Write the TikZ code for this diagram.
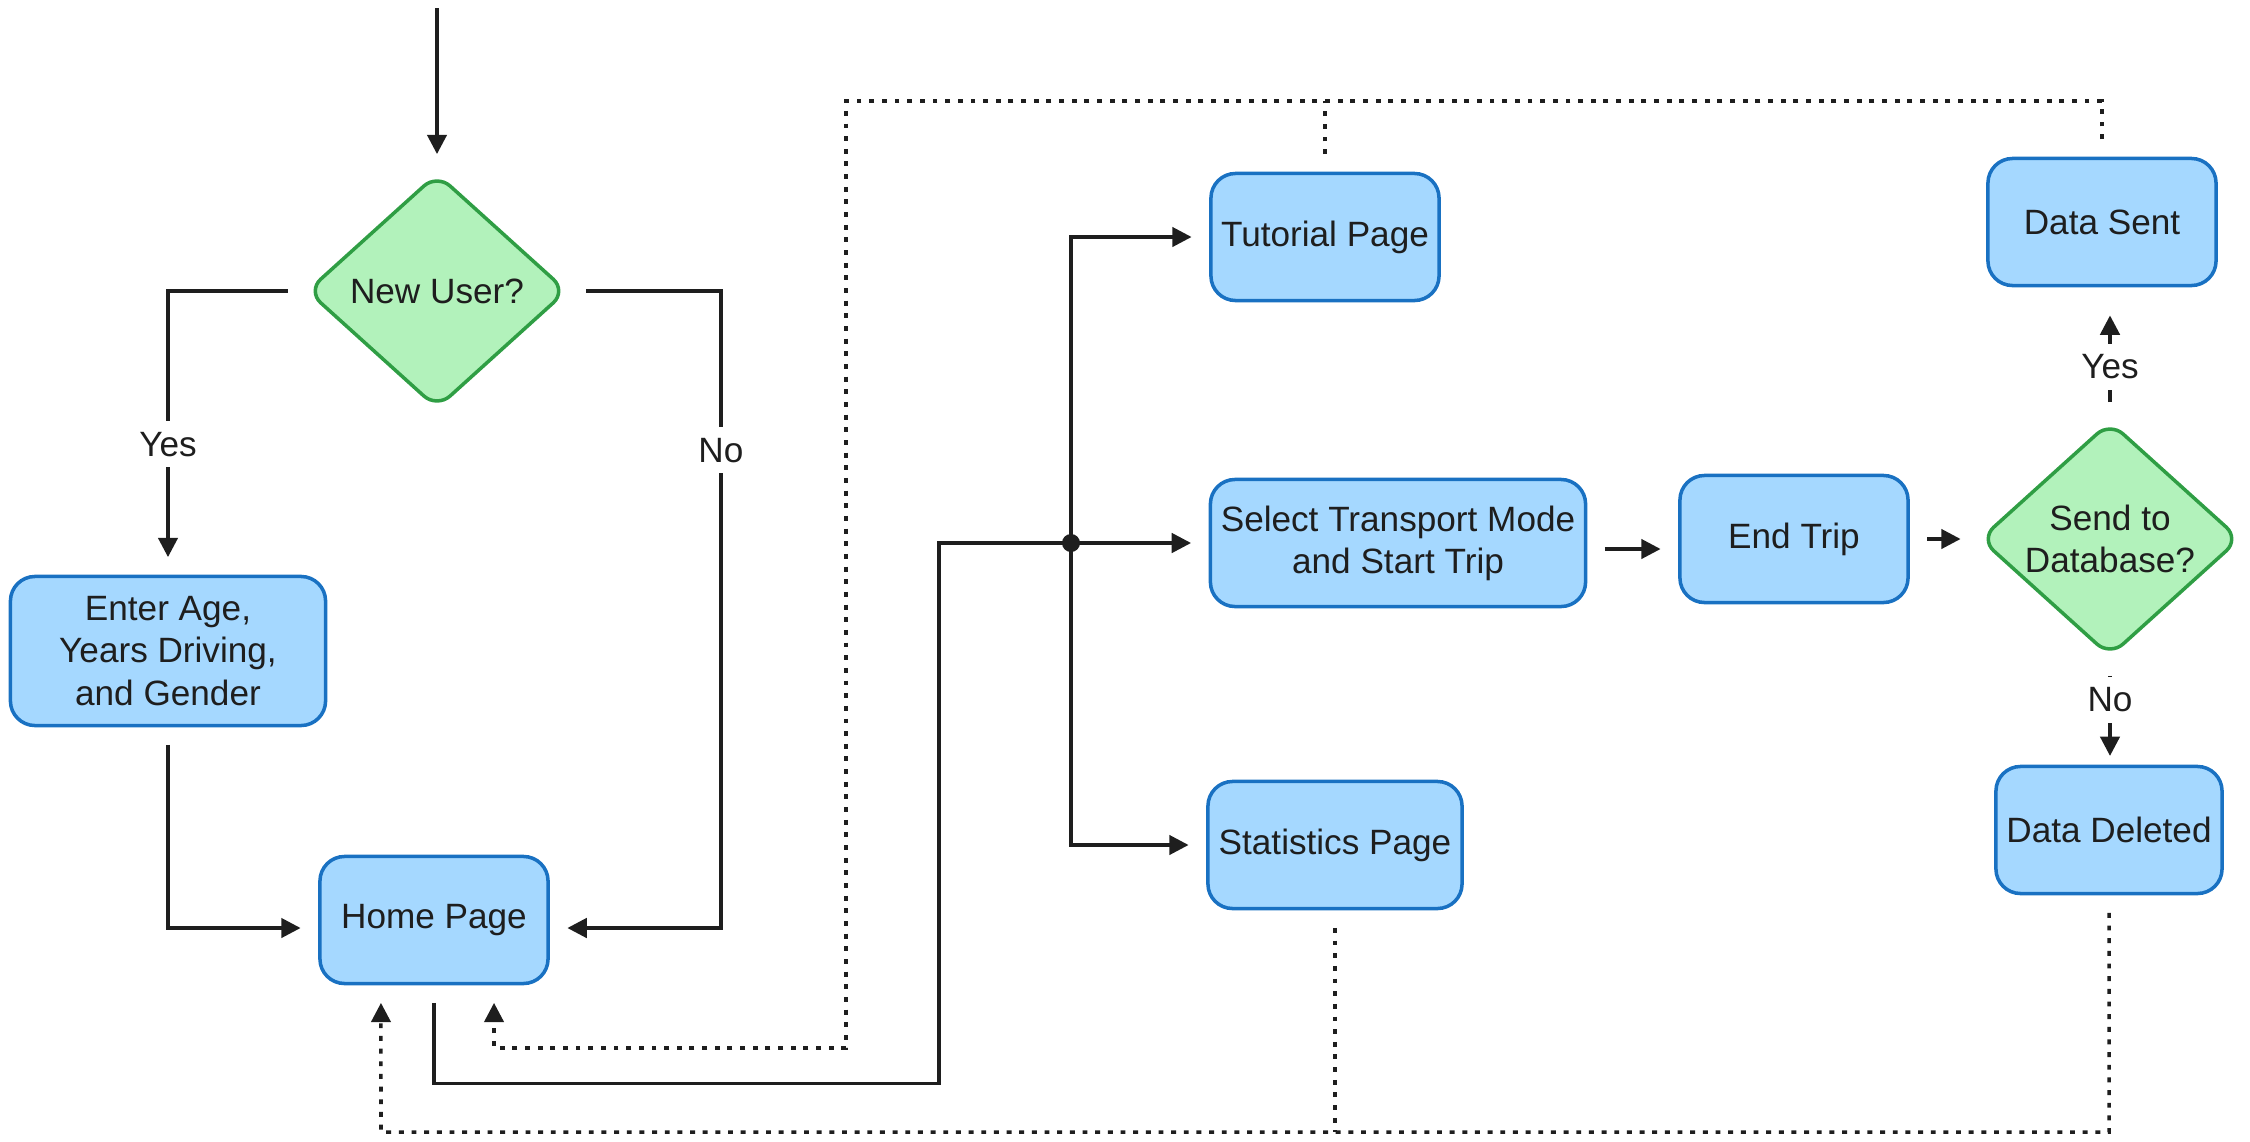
\documentclass[tikz,border=0pt]{standalone}
\usepackage{fontspec}
\setmainfont{Liberation Sans}
\usetikzlibrary{arrows.meta,shapes.geometric}
\definecolor{boxfill}{HTML}{A5D8FF}
\definecolor{boxline}{HTML}{1971C2}
\definecolor{askfill}{HTML}{B2F2BB}
\definecolor{askline}{HTML}{2F9E44}
\definecolor{ink}{HTML}{1E1E1E}

\begin{document}
\begin{tikzpicture}[
    x=0.01cm, y=-0.01cm,
    page/.style={draw=boxline, fill=boxfill, line width=1pt, rounded corners=7pt,
      minimum width=2.28cm, minimum height=1.27cm, inner sep=0pt, align=center, text=ink},
    decision/.style={diamond, draw=askline, fill=askfill, line width=1pt, rounded corners=5pt,
      shape aspect=1.11, minimum width=2.6cm, minimum height=2.35cm, inner sep=0pt,
      align=center, text=ink},
    flow/.style={draw=ink, line width=1pt, shorten <=5pt, shorten >=5pt,
      -{Triangle[length=5.5pt,width=5.5pt]}},
    feedback/.style={flow, dash pattern=on 1.4pt off 2.2pt},
    stub/.style={feedback, -, shorten >=0pt},
    lbl/.style={fill=white, inner sep=3pt, text=ink},
    junction/.style={circle, fill=ink, minimum size=0.18cm, inner sep=0pt}
]
\useasboundingbox (0,0) rectangle (2250,1142);

\node[decision] (NU) at (437,291) {New User?};
\node[page, minimum width=3.15cm, minimum height=1.49cm] (EA) at (168,651) {Enter Age,\\Years Driving,\\and Gender};
\node[page] (HP) at (434,920) {Home Page};
\node[page] (TP) at (1325,237) {Tutorial Page};
\node[page, minimum width=3.75cm] (ST) at (1398,543) {Select Transport Mode\\and Start Trip};
\node[page, minimum width=2.54cm] (SP) at (1335,845) {Statistics Page};
\node[page] (ET) at (1794,539) {End Trip};
\node[decision] (DB) at (2110,539) {Send to\\Database?};
\node[page] (DS) at (2102,222) {Data Sent};
\node[page, minimum width=2.26cm] (DD) at (2109,830) {Data Deleted};
\node[junction] (J) at (1071,543) {};

\coordinate (start) at (437,8);
\coordinate (U) at (846,101);
\coordinate (A) at (846,1048);
\coordinate (B) at (381,1132);

% sign-up
\draw[flow, shorten <=0pt] (start) -- (NU.north);
\draw[flow] (NU.west) -| node[lbl, pos=0.77] {Yes} (EA.north);
\draw[flow] (NU.east) -- ++(152,0) |- node[lbl, pos=0.125] {No} ([yshift=-0.08cm]HP.east);
\draw[flow] (EA.south) |- ([yshift=-0.08cm]HP.west);

% home menu
\draw[flow] (HP.south) -- ++(0,98) -| ([xshift=-1.32cm]J.center) -- (ST.west);
\foreach \p in {TP,SP}{
  \draw[flow, shorten <=0pt] (J.center) |- (\p.west);
}

% trip
\draw[flow] ([yshift=-0.06cm]ST.east) -- ([yshift=-0.06cm]ST.east -| ET.west);
\draw[flow] (ET.east) -- (DB.west);
\draw[flow, shorten >=8pt] (DB.north) -- node[lbl, pos=0.4] {Yes} (DB.north |- DS.south);
\draw[flow, shorten >=2.5pt] (DB.south) -- node[lbl, pos=0.39] {No} (DB.south |- DD.north);

% back to home
\draw[feedback] (DS.north) |- (U) -- (A) -| ([xshift=0.6cm]HP.south);
\draw[stub] (TP.north) -- (TP.north |- U);
\draw[feedback] (DD.south) |- (B) -- ([xshift=-0.53cm]HP.south);
\draw[stub] (SP.south) -- (SP.south |- B);

\end{tikzpicture}
\end{document}
